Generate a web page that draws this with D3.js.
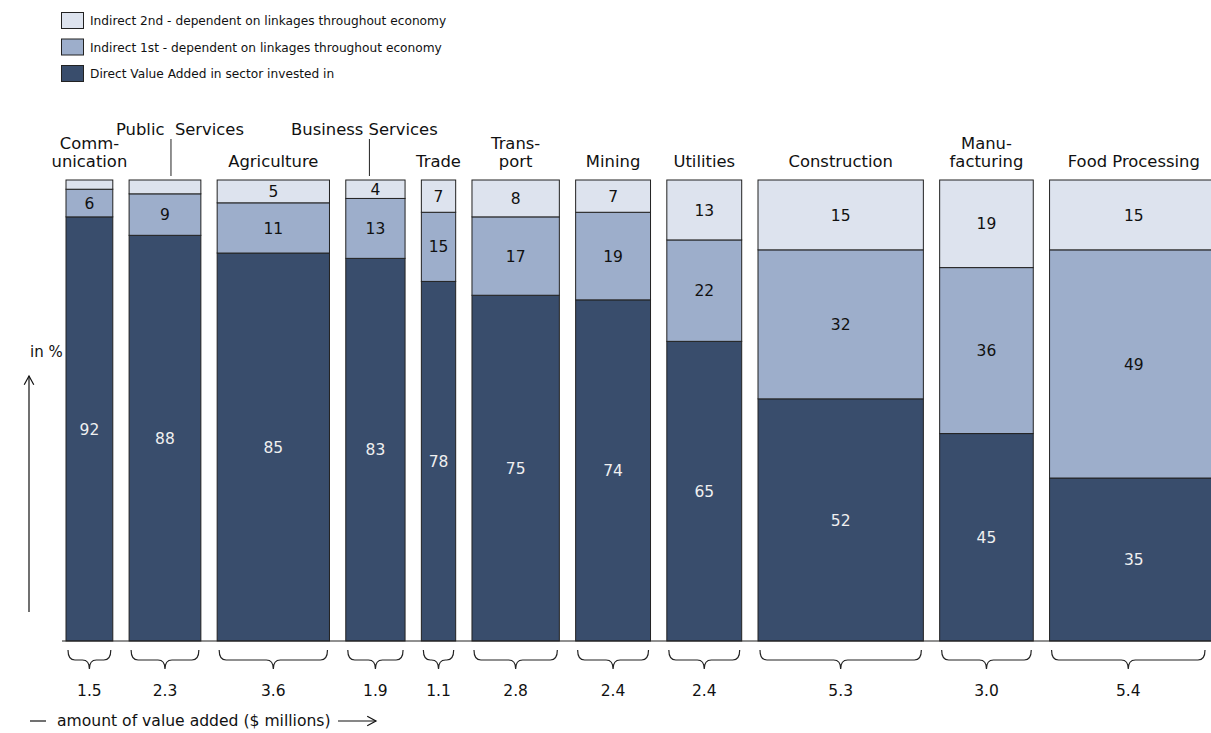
<!DOCTYPE html>
<html>
<head>
<meta charset="utf-8">
<script src="https://cdn.jsdelivr.net/npm/d3@7/dist/d3.min.js"></script>
<style>
  body { margin: 0; padding: 0; background: #fff; overflow: hidden; }
  text { font-family: Verdana, "DejaVu Sans", sans-serif; fill: #111; }
</style>
</head>
<body>
<script>
  // data
  const sectors = ["Communication", "Public Services", "Agriculture", "Business Services", "Trade",
    "Transport", "Mining", "Utilities", "Construction", "Manufacturing", "Food Processing"];
  const sectorLines = [["Comm-", "unication"], ["Public  Services"], ["Agriculture"], ["Business Services"], ["Trade"],
    ["Trans-", "port"], ["Mining"], ["Utilities"], ["Construction"], ["Manu-", "facturing"], ["Food Processing"]];
  const valueAdded = [1.5, 2.3, 3.6, 1.9, 1.1, 2.8, 2.4, 2.4, 5.3, 3.0, 5.4];
  const direct    = [92, 88, 85, 83, 78, 75, 74, 65, 52, 45, 35];
  const indirect1 = [6, 9, 11, 13, 15, 17, 19, 22, 32, 36, 49];
  const indirect2 = [2, 3, 5, 4, 7, 8, 7, 13, 15, 19, 15];
  const seriesNames = ["Direct Value Added in sector invested in",
    "Indirect 1st - dependent on linkages throughout economy",
    "Indirect 2nd - dependent on linkages throughout economy"];
  const colors = ["#394d6c", "#9daecb", "#dde3ee"];

  const width = 1211, height = 733;
  const marginLeft = 66, gap = 16.3, plotTop = 180, base = 641;
  const fsLabel = 16.4, fsVal = 15.5, fsLeg = 12.2;

  const svg = d3.select("body").append("svg")
    .attr("width", width)
    .attr("height", height);

  const w = d3.scaleLinear().domain([0, 1]).range([0, 31.2]);
  const y = d3.scaleLinear().domain([0, 100]).range([base, plotTop]);

  // x positions of each bar
  let x0 = marginLeft;
  const bars = sectors.map((s, i) => {
    const b = {name: s, i: i, x: x0, w: w(valueAdded[i])};
    const total = direct[i] + indirect1[i] + indirect2[i];
    const vals = [direct[i], indirect1[i], indirect2[i]];
    let acc = 0;
    b.segs = vals.map((v, k) => {
      const s0 = acc / total * 100;
      acc += v;
      return {k: k, v: v, y0: s0, y1: acc / total * 100};
    });
    x0 += b.w + gap;
    return b;
  });

  const g = svg.selectAll("g.bar").data(bars).enter().append("g").attr("class", "bar");

  g.selectAll("rect").data(d => d.segs.map(s => Object.assign({x: d.x, w: d.w}, s)))
    .enter().append("rect")
    .attr("x", d => d.x)
    .attr("width", d => d.w)
    .attr("y", d => y(d.y1))
    .attr("height", d => y(d.y0) - y(d.y1))
    .attr("fill", d => colors[d.k])
    .attr("stroke", "#222")
    .attr("stroke-width", 1);

  g.selectAll("text.val").data(d => d.segs.map(s => Object.assign({x: d.x, w: d.w}, s)))
    .enter().filter(d => y(d.y0) - y(d.y1) > 16)
    .append("text")
    .attr("class", "val")
    .attr("x", d => d.x + d.w / 2)
    .attr("y", d => (y(d.y0) + y(d.y1)) / 2)
    .attr("dy", "0.36em")
    .attr("text-anchor", "middle")
    .style("font-size", fsVal + "px")
    .style("fill", d => d.k === 0 ? "#f0f0f0" : "#111")
    .text(d => d.v);

  // baseline
  svg.append("line")
    .attr("x1", 62).attr("x2", width)
    .attr("y1", base).attr("y2", base)
    .attr("stroke", "#222").attr("stroke-width", 1.2);

  // sector labels
  bars.forEach((b, i) => {
    const cx = b.x + b.w / 2;
    const lines = sectorLines[i];
    if (b.name === "Public Services" || b.name === "Business Services") {
      const ps = b.name === "Public Services";
      const tx = ps ? cx + 15 : cx - 11;
      const lx = ps ? cx + 6 : cx - 6;
      svg.append("text").attr("x", tx).attr("y", 135)
        .attr("text-anchor", "middle").style("font-size", fsLabel + "px")
        .style("white-space", "pre").attr("xml:space", "preserve")
        .text(lines[0]);
      svg.append("line").attr("x1", lx).attr("x2", lx).attr("y1", 139).attr("y2", 176)
        .attr("stroke", "#222").attr("stroke-width", 1);
      return;
    }
    lines.forEach((t, j) => {
      svg.append("text").attr("x", cx)
        .attr("y", 167 - (lines.length - 1 - j) * 18)
        .attr("text-anchor", "middle").style("font-size", fsLabel + "px")
        .text(t);
    });
  });

  // braces and value added
  bars.forEach((b, i) => {
    const a = b.x + 2, c = Math.min(b.x + b.w - 2, width - 6), m = (a + c) / 2;
    const y0 = 650, y1 = 660, r = 7;
    const p = `M${a},${y0} Q${a},${y1} ${a + r},${y1} L${m - 7},${y1} Q${m},${y1} ${m},${y1 + 9}`
      + ` Q${m},${y1} ${m + 7},${y1} L${c - r},${y1} Q${c},${y1} ${c},${y0}`;
    svg.append("path").attr("d", p).attr("fill", "none").attr("stroke", "#222").attr("stroke-width", 1.2);
    svg.append("text").attr("x", m).attr("y", 696)
      .attr("text-anchor", "middle").style("font-size", fsVal + "px")
      .text(valueAdded[i].toFixed(1));
  });

  // legend
  const leg = svg.append("g");
  [2, 1, 0].forEach((k, j) => {
    leg.append("rect").attr("x", 61.5).attr("y", 12.5 + j * 26.5).attr("width", 22).attr("height", 16)
      .attr("fill", colors[k]).attr("stroke", "#222");
    leg.append("text").attr("x", 90).attr("y", 25 + j * 26.5)
      .style("font-size", fsLeg + "px").text(seriesNames[k]);
  });

  // axis hints
  const arrow = (x1, y1, x2, y2) => {
    svg.append("line").attr("x1", x1).attr("y1", y1).attr("x2", x2).attr("y2", y2)
      .attr("stroke", "#111").attr("stroke-width", 1.2);
    const ang = Math.atan2(y2 - y1, x2 - x1), L = 10, s = 0.5;
    const p = `M${x2 - L * Math.cos(ang - s)},${y2 - L * Math.sin(ang - s)} L${x2},${y2} L${x2 - L * Math.cos(ang + s)},${y2 - L * Math.sin(ang + s)}`;
    svg.append("path").attr("d", p).attr("fill", "none").attr("stroke", "#111").attr("stroke-width", 1.2);
  };
  svg.append("text").attr("x", 30).attr("y", 357).style("font-size", "15px").text("in %");
  arrow(29, 612, 29, 376);
  svg.append("line").attr("x1", 30).attr("x2", 46).attr("y1", 721).attr("y2", 721)
    .attr("stroke", "#111").attr("stroke-width", 1.2);
  svg.append("text").attr("x", 57).attr("y", 726).style("font-size", "15.6px")
    .text("amount of value added ($ millions)");
  arrow(338, 721, 376, 721);
</script>
</body>
</html>
